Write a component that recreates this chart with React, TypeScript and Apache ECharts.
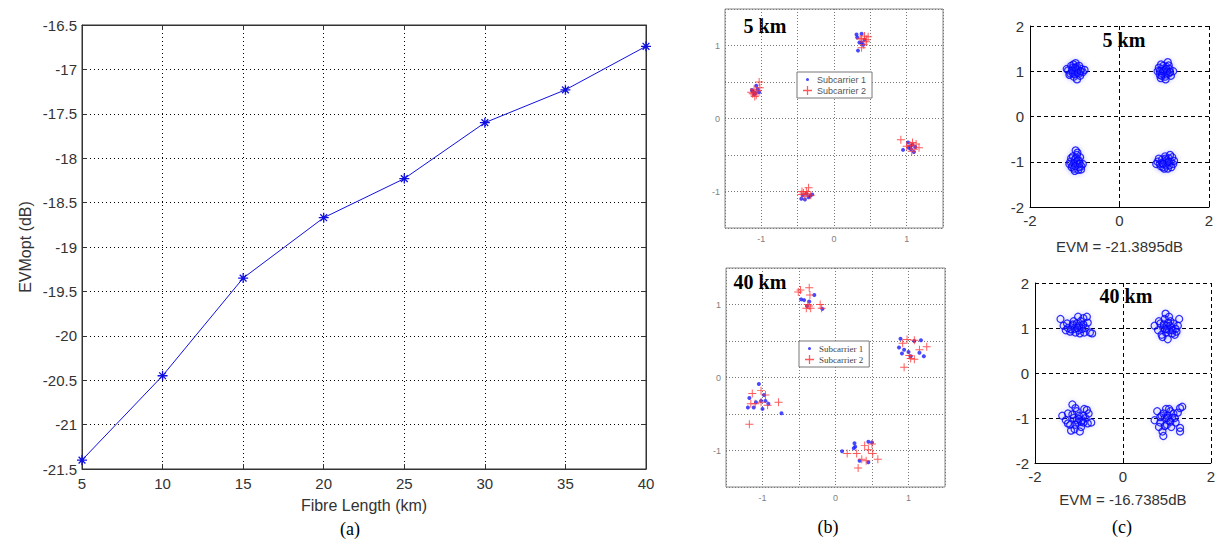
import React, { useEffect, useRef } from "react";
import * as echarts from "echarts";

// ---------- (a) EVMopt vs fibre length ----------
const fibreLength = [5, 10, 15, 20, 25, 30, 35, 40];
const evmOpt = [-21.4, -20.45, -19.35, -18.67, -18.23, -17.6, -17.23, -16.74];

// ---------- (b) two subcarriers, 5 km and 40 km ----------
const sub1At5km: number[][] = [
  [0.31, 1.15], [0.32, 1.11], [0.38, 1.16], [0.35, 1.04], [0.38, 1.04], [0.33, 0.93], [0.4, 1.01], [0.42, 1.08],
  [1.02, -0.33], [1.05, -0.38], [1.08, -0.36], [0.95, -0.43], [1.1, -0.46], [1.06, -0.42], [1.12, -0.39], [1.03, -0.4],
  [-0.45, -1.1], [-0.4, -1.11], [-0.33, -1.06], [-0.38, -1.03], [-0.43, -1.05], [-0.35, -1.08], [-0.3, -1.04],
  [-1.12, 0.37], [-1.08, 0.35], [-1.05, 0.4], [-1.1, 0.33], [-1.03, 0.36], [-1.07, 0.45], [-1.13, 0.39],
];
const sub2At5km: number[][] = [
  [0.38, 1.1], [0.42, 1.13], [0.45, 1.08], [0.41, 1.01], [0.44, 1.05], [0.38, 0.97], [0.36, 1.09], [0.47, 1.12],
  [0.92, -0.29], [1.08, -0.33], [1.13, -0.35], [1.17, -0.4], [1.05, -0.37], [1.1, -0.42], [1.0, -0.38], [1.07, -0.45],
  [-0.35, -0.95], [-0.42, -1.02], [-0.38, -1.0], [-0.45, -1.04], [-0.4, -1.07], [-0.36, -1.03], [-0.32, -1.05], [-0.44, -1.0],
  [-1.03, 0.5], [-1.1, 0.4], [-1.07, 0.32], [-1.14, 0.36], [-1.05, 0.38], [-1.09, 0.3], [-1.02, 0.42], [-1.12, 0.34],
];
const sub1At40km: number[][] = [
  [-0.47, 1.07], [-0.43, 1.06], [-0.36, 1.04], [-0.29, 1.13], [-0.18, 0.94], [-0.39, 0.98],
  [0.89, 0.53], [0.87, 0.41], [0.94, 0.38], [1.03, 0.29], [1.17, 0.51], [1.21, 0.29], [1.08, 0.5], [1.0, 0.35], [0.91, 0.33], [1.15, 0.34],
  [0.09, -1.01], [0.26, -0.9], [0.27, -0.95], [0.45, -0.88], [0.5, -0.89], [0.33, -1.14], [0.45, -1.16], [0.25, -0.97],
  [-1.05, -0.09], [-1.18, -0.28], [-1.12, -0.41], [-1.02, -0.32], [-1.0, -0.43], [-0.92, -0.36], [-0.74, -0.49], [-0.98, -0.24], [-1.09, -0.34], [-1.2, -0.41], [-0.96, -0.32],
];
const sub2At40km: number[][] = [
  [-0.51, 1.17], [-0.48, 1.2], [-0.36, 1.23], [-0.35, 1.13], [-0.21, 1.0], [-0.19, 0.95], [-0.38, 1.0], [-0.34, 0.95], [-0.4, 0.95], [-0.36, 0.98],
  [0.98, 0.52], [0.92, 0.47], [1.08, 0.51], [1.25, 0.42], [1.15, 0.38], [1.03, 0.26], [0.94, 0.14], [1.08, 0.25], [1.01, 0.3],
  [0.16, -1.04], [0.29, -1.04], [0.36, -1.12], [0.45, -0.99], [0.5, -0.91], [0.51, -1.04], [0.58, -1.12], [0.31, -1.24], [0.42, -1.14], [0.4, -0.93],
  [-1.18, -0.64], [-0.78, -0.34], [-1.14, -0.22], [-1.02, -0.18], [-0.96, -0.24], [-1.1, -0.36], [-1.16, -0.36], [-1.02, -0.34], [-0.93, -0.38],
];

// ---------- (c) QPSK constellations, 5 km and 40 km ----------
const qpskAt5km: number[][] = [
  [-1.15, 1.02], [-1.1, 0.95], [-1.05, 1.08], [-1.0, 1.0], [-0.95, 1.1], [-0.9, 0.95], [-0.85, 1.05], [-0.82, 0.98], [-1.02, 0.88], [-0.95, 0.82], [-1.08, 1.12],
  [-0.98, 1.18], [-0.92, 1.02], [-1.12, 0.92], [-0.88, 0.9], [-1.0, 0.93], [-0.97, 1.05], [-1.05, 0.97], [-0.9, 1.12], [-1.18, 1.05], [-0.78, 1.03], [-1.03, 1.15],
  [-1.06, 1.02], [-0.94, 0.97], [-0.99, 1.08], [-0.87, 1.0],
  [0.85, 1.0], [0.9, 0.92], [0.95, 1.05], [1.0, 0.98], [1.05, 1.1], [1.1, 0.95], [1.02, 0.88], [0.92, 0.85], [1.08, 1.2], [1.12, 1.05], [0.88, 1.08],
  [0.98, 1.12], [1.05, 0.93], [0.95, 0.95], [1.15, 0.9], [1.2, 1.0], [1.0, 1.02], [0.9, 1.0], [1.03, 0.82], [1.07, 1.0], [0.93, 1.15], [1.1, 1.13],
  [0.97, 1.0], [1.04, 1.05], [0.94, 0.9], [1.13, 0.98],
  [-1.1, -1.0], [-1.05, -1.08], [-1.0, -0.95], [-0.95, -1.05], [-0.9, -0.98], [-0.85, -1.1], [-0.95, -0.85], [-0.98, -0.75], [-1.02, -1.15], [-0.92, -1.18], [-0.88, -0.9],
  [-1.08, -0.92], [-0.96, -1.0], [-1.12, -1.05], [-0.82, -1.05], [-1.0, -1.2], [-0.9, -1.12], [-1.04, -0.88], [-0.97, -0.92], [-0.86, -1.17], [-1.07, -1.12], [-0.94, -0.8],
  [-1.01, -1.03], [-0.93, -0.97], [-0.99, -1.1], [-0.89, -1.04],
  [0.85, -1.0], [0.9, -1.05], [0.95, -0.95], [1.0, -1.0], [1.05, -1.08], [1.1, -0.92], [1.15, -1.0], [1.2, -1.05], [1.02, -0.88], [0.97, -1.12], [1.08, -1.15],
  [0.92, -1.1], [1.12, -1.08], [1.05, -0.97], [0.88, -0.93], [1.18, -0.9], [1.0, -1.15], [1.13, -0.85], [0.95, -1.03], [1.07, -1.02], [1.22, -0.98], [0.82, -1.05],
  [1.03, -0.93], [0.98, -1.05], [1.1, -1.0], [1.16, -1.12],
];
const qpskAt40km: number[][] = [
  [-1.42, 1.2], [-1.35, 1.05], [-1.3, 0.95], [-1.25, 1.0], [-1.2, 0.92], [-1.15, 1.05], [-1.1, 0.98], [-1.05, 1.1], [-1.0, 0.95], [-0.95, 1.05], [-0.9, 1.22], [-0.88, 0.9], [-0.85, 1.0],
  [-0.8, 1.12], [-0.75, 0.9], [-0.7, 0.88], [-1.02, 1.25], [-0.98, 0.88], [-1.08, 0.9], [-0.93, 0.98], [-1.12, 1.15], [-0.82, 1.25], [-1.18, 0.97], [-1.0, 1.05], [-0.9, 1.08], [-1.27, 1.1],
  [-1.04, 1.0], [-0.96, 1.15], [-1.14, 1.08],
  [0.72, 1.05], [0.8, 0.95], [0.85, 1.1], [0.88, 0.85], [0.92, 1.0], [0.95, 1.2], [0.98, 0.9], [1.0, 1.05], [1.02, 0.75], [1.05, 0.95], [1.08, 1.15], [1.1, 1.0], [1.12, 0.88],
  [1.15, 1.1], [1.2, 0.98], [1.25, 1.05], [1.28, 1.2], [0.97, 1.32], [0.9, 0.8], [1.05, 1.25], [0.82, 1.15], [1.18, 0.85], [1.0, 0.98], [0.93, 1.08], [1.07, 1.05], [1.22, 0.92],
  [1.03, 1.12], [0.96, 0.97], [1.13, 0.95],
  [-1.38, -0.95], [-1.3, -1.05], [-1.25, -0.9], [-1.2, -1.15], [-1.15, -0.7], [-1.12, -1.0], [-1.1, -1.25], [-1.05, -0.85], [-1.02, -1.1], [-1.0, -0.95], [-0.95, -1.2], [-0.92, -1.05], [-0.88, -0.8],
  [-0.85, -1.0], [-0.8, -1.12], [-0.78, -0.9], [-0.72, -1.1], [-1.18, -1.28], [-0.98, -1.3], [-1.08, -0.78], [-0.9, -0.95], [-1.05, -1.05], [-1.25, -1.12], [-0.82, -0.82], [-1.15, -0.92], [-0.95, -1.08],
  [-1.0, -1.02], [-1.08, -1.15], [-0.9, -1.1],
  [0.72, -1.05], [0.78, -0.85], [0.85, -1.1], [0.88, -0.95], [0.9, -1.3], [0.92, -1.4], [0.95, -1.0], [0.98, -0.8], [1.0, -1.15], [1.02, -0.95], [1.05, -1.05], [1.08, -0.85], [1.1, -1.2],
  [1.12, -1.0], [1.15, -0.9], [1.2, -1.1], [1.25, -0.88], [1.3, -0.78], [1.35, -0.75], [1.3, -1.22], [1.3, -1.3], [0.82, -1.2], [1.05, -0.8], [0.95, -1.18], [1.18, -1.0], [0.85, -0.98],
  [1.0, -1.0], [1.08, -1.08], [0.92, -0.9],
];

const evmText5km = "EVM = -21.3895dB";
const evmText40km = "EVM = -16.7385dB";

const SANS = "'Liberation Sans', Arial, sans-serif";
const SERIF = "'Liberation Serif', 'Times New Roman', serif";

const ASTERISK = "path://M5 0 L5 10 M0 5 L10 5 M1.6 1.6 L8.4 8.4 M8.4 1.6 L1.6 8.4";
const PLUS = "path://M4.4 0 H5.6 V4.4 H10 V5.6 H5.6 V10 H4.4 V5.6 H0 V4.4 H4.4 Z";
const PLUS_ICON = "path://M4.3 0 H5.7 V4.3 H10 V5.7 H5.7 V10 H4.3 V5.7 H0 V4.3 H4.3 Z";
const DOT_ICON = "path://M0 0 L0.01 0.01 Z M10 10 L9.99 9.99 Z M3.3 5 A1.7 1.7 0 1 0 6.7 5 A1.7 1.7 0 1 0 3.3 5 Z";

const BLUE_DOT = "#1a1aff";
const RED_PLUS = "#ff3030";

const intOnly = (v: number) => (Math.abs(v - Math.round(v)) < 1e-9 ? String(Math.round(v)) : "");

function bAxis(gridIndex: number, isX: boolean) {
  return {
    gridIndex,
    type: "value",
    min: -1.5,
    max: 1.5,
    interval: 0.5,
    axisLine: { show: false, onZero: false },
    axisTick: { show: false },
    axisLabel: { fontSize: 9, color: "#808080", fontFamily: SANS, margin: isX ? 6 : 5, formatter: intOnly },
    splitLine: { show: true, lineStyle: { type: [1, 2], color: "#777", width: 1 } },
  };
}

function cAxis(gridIndex: number, isX: boolean, name?: string, nameGap?: number) {
  return {
    gridIndex,
    type: "value",
    min: -2,
    max: 2,
    interval: isX ? 2 : 1,
    axisLine: { show: true, onZero: false, lineStyle: { color: "#000", width: 1 } },
    axisTick: { show: true, inside: true, length: 4, lineStyle: { color: "#000" } },
    axisLabel: { fontSize: 15, color: "#333", fontFamily: SANS, margin: 6 },
    splitLine: { show: true, lineStyle: { type: [4, 3], color: "#000", width: 1 } },
    name,
    nameLocation: "middle",
    nameGap,
    nameTextStyle: { fontSize: 15, color: "#333", fontFamily: SANS },
  };
}

const labelText = (text: string, x: number, y: number, font: string) => ({
  type: "text",
  x,
  y,
  style: { text, x: 0, y: 0, font, fill: "#000", align: "center", verticalAlign: "middle", textAlign: "center", textVerticalAlign: "middle" },
});

const qpskStyle = {
  color: "rgba(0,0,255,0)",
  borderColor: "#0000ff",
  borderWidth: 1.3,
  shadowBlur: 4,
  shadowColor: "rgba(80,80,255,0.35)",
};

export default function App() {
  const ref = useRef<HTMLDivElement>(null);
  useEffect(() => {
    document.body.style.margin = "0";
    const chart = echarts.init(ref.current!, undefined, { renderer: "svg" });
    const legendBase = {
      orient: "vertical",
      itemWidth: 9,
      itemHeight: 9,
      itemGap: 2,
      padding: [3, 6, 3, 6],
      borderColor: "#777",
      borderWidth: 1,
      backgroundColor: "#fff",
      selectedMode: false,
      inactiveColor: RED_PLUS,
      data: [
        { name: "Subcarrier 1", icon: DOT_ICON, itemStyle: { color: BLUE_DOT, borderWidth: 0 } },
        { name: "Subcarrier 2", icon: PLUS_ICON, itemStyle: { color: RED_PLUS, borderWidth: 0 } },
      ],
    };
    chart.setOption({
      animation: false,
      backgroundColor: "#fff",
      grid: [
        { left: 82, top: 25, width: 564, height: 444, show: true, borderColor: "#333", borderWidth: 1 },
        { left: 725, top: 9, width: 218, height: 219, show: true, borderColor: "#888", borderWidth: 1 },
        { left: 726, top: 268, width: 219, height: 219, show: true, borderColor: "#888", borderWidth: 1 },
        { left: 1030, top: 26, width: 179, height: 181 },
        { left: 1035, top: 283, width: 178, height: 180 },
      ],
      xAxis: [
        {
          gridIndex: 0,
          type: "value",
          min: 5,
          max: 40,
          interval: 5,
          axisLine: { show: true, onZero: false, lineStyle: { color: "#333" } },
          axisTick: { show: true, inside: true, length: 5, lineStyle: { color: "#333" } },
          axisLabel: { fontSize: 15, color: "#333", fontFamily: SANS, margin: 7 },
          splitLine: { show: true, lineStyle: { type: [1, 3], color: "#000", width: 1 } },
          name: "Fibre Length (km)",
          nameLocation: "middle",
          nameGap: 28,
          nameTextStyle: { fontSize: 16, color: "#333", fontFamily: SANS },
        },
        {
          gridIndex: 0,
          type: "value",
          position: "top",
          min: 5,
          max: 40,
          interval: 5,
          axisLine: { show: true, onZero: false, lineStyle: { color: "#333" } },
          axisTick: { show: true, inside: true, length: 5, lineStyle: { color: "#333" } },
          axisLabel: { show: false },
          splitLine: { show: false },
        },
        bAxis(1, true),
        bAxis(2, true),
        cAxis(3, true, evmText5km, 32),
        cAxis(4, true, evmText40km, 29),
      ],
      yAxis: [
        {
          gridIndex: 0,
          type: "value",
          min: -21.5,
          max: -16.5,
          interval: 0.5,
          axisLine: { show: true, onZero: false, lineStyle: { color: "#333" } },
          axisTick: { show: true, inside: true, length: 5, lineStyle: { color: "#333" } },
          axisLabel: { fontSize: 15, color: "#333", fontFamily: SANS, margin: 5 },
          splitLine: { show: true, lineStyle: { type: [1, 3], color: "#000", width: 1 } },
          name: "EVMopt (dB)",
          nameLocation: "middle",
          nameGap: 49,
          nameTextStyle: { fontSize: 16, color: "#333", fontFamily: SANS },
        },
        {
          gridIndex: 0,
          type: "value",
          position: "right",
          min: -21.5,
          max: -16.5,
          interval: 0.5,
          axisLine: { show: true, onZero: false, lineStyle: { color: "#333" } },
          axisTick: { show: true, inside: true, length: 5, lineStyle: { color: "#333" } },
          axisLabel: { show: false },
          splitLine: { show: false },
        },
        bAxis(1, false),
        bAxis(2, false),
        cAxis(3, false),
        cAxis(4, false),
      ],
      legend: [
        { ...legendBase, left: 797, top: 72, textStyle: { fontSize: 9, color: "#555", fontFamily: SANS } },
        { ...legendBase, left: 799, top: 341, textStyle: { fontSize: 9, color: "#444", fontFamily: SERIF } },
      ],
      series: [
        {
          type: "line",
          name: "EVMopt",
          xAxisIndex: 0,
          yAxisIndex: 0,
          data: fibreLength.map((x, i) => [x, evmOpt[i]]),
          symbol: ASTERISK,
          symbolSize: 10,
          lineStyle: { color: "#1010e0", width: 1 },
          itemStyle: { color: "#1010e0", borderColor: "#1010e0", borderWidth: 1.3 },
        },
        {
          type: "scatter", name: "Subcarrier 1", xAxisIndex: 2, yAxisIndex: 2, data: sub1At5km,
          symbol: "circle", symbolSize: 4, itemStyle: { color: BLUE_DOT },
        },
        {
          type: "scatter", name: "Subcarrier 2", xAxisIndex: 2, yAxisIndex: 2, data: sub2At5km,
          symbol: PLUS, symbolSize: 8, itemStyle: { color: RED_PLUS },
        },
        {
          type: "scatter", name: "Subcarrier 1", xAxisIndex: 3, yAxisIndex: 3, data: sub1At40km,
          symbol: "circle", symbolSize: 4, itemStyle: { color: BLUE_DOT },
        },
        {
          type: "scatter", name: "Subcarrier 2", xAxisIndex: 3, yAxisIndex: 3, data: sub2At40km,
          symbol: PLUS, symbolSize: 8, itemStyle: { color: RED_PLUS },
        },
        {
          type: "scatter", name: "5 km", xAxisIndex: 4, yAxisIndex: 4, data: qpskAt5km,
          symbol: "circle", symbolSize: 7, itemStyle: qpskStyle,
        },
        {
          type: "scatter", name: "40 km", xAxisIndex: 5, yAxisIndex: 5, data: qpskAt40km,
          symbol: "circle", symbolSize: 7, itemStyle: qpskStyle,
        },
      ],
      graphic: [
        labelText("(a)", 350, 529, `18px ${SERIF}`),
        labelText("(b)", 828, 527, `18px ${SERIF}`),
        labelText("(c)", 1122, 527, `18px ${SERIF}`),
        labelText("5 km", 765, 26, `bold 20px ${SERIF}`),
        labelText("40 km", 760, 282, `bold 20px ${SERIF}`),
        labelText("5 km", 1124, 40, `bold 20px ${SERIF}`),
        labelText("40 km", 1126, 296, `bold 20px ${SERIF}`),
      ],
    });
    return () => chart.dispose();
  }, []);
  return <div ref={ref} style={{ position: "fixed", left: 0, top: 0, width: 1218, height: 540 }} />;
}
